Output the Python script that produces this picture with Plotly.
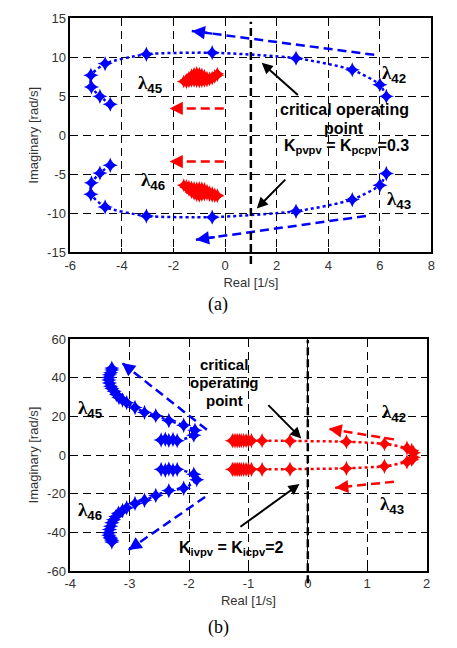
import plotly.graph_objects as go

# ---------------- (a) data ----------------
a_blue_x = [6.25, 6.0, 4.93, 2.75, -0.5, -3.05, -4.65, -5.2, -5.18, -4.85, -4.45]
a_blue_up_y = [5.0, 6.5, 8.4, 9.9, 10.6, 10.4, 9.2, 7.7, 6.2, 5.0, 4.0]
a_blue_dn_y = [-4.9, -6.4, -8.25, -9.75, -10.5, -10.35, -9.2, -7.55, -6.1, -4.85, -3.85]

a_red_x = [-0.3, -0.4, -0.5, -0.6, -0.7, -0.8, -0.9, -1.0, -1.1, -1.2, -1.3, -1.4, -1.5, -1.6,
           -1.5, -1.4, -1.3, -1.2, -1.1, -1.0, -0.9, -0.8, -0.7, -0.6, -0.5, -0.4, -0.3]
a_red_up_y = [7.9, 7.6, 7.4, 7.3, 7.4, 7.6, 7.8, 7.9, 8.0, 7.9, 7.7, 7.4, 7.1, 6.9,
              6.85, 6.9, 7.0, 7.0, 6.95, 6.9, 6.95, 7.0, 7.05, 7.15, 7.3, 7.5, 7.7]
a_red_dn_y = [-7.8, -7.6, -7.4, -7.3, -7.1, -6.9, -6.8, -6.75, -6.8, -6.75, -6.7, -6.6, -6.5, -6.4,
              -6.7, -7.0, -7.3, -7.5, -7.7, -7.75, -7.7, -7.6, -7.55, -7.65, -7.75, -7.8, -7.7]

# ---------------- (b) data ----------------
b_blue_up_x = [-2.47, -2.4, -2.34, -2.27, -2.2, -1.92, -1.9, -2.09, -2.34, -2.56, -2.75, -2.91,
               -3.05, -3.12, -3.18, -3.22, -3.26, -3.3, -3.32, -3.34, -3.35, -3.35, -3.34,
               -3.32, -3.3, -3.3]
b_blue_up_y = [7.8, 8.2, 7.6, 8.1, 7.4, 10.3, 12.8, 15.4, 17.9, 20.4, 22.1, 24.6,
               27.1, 28.5, 29.8, 31.3, 33.0, 34.5, 35.6, 37.3, 38.9, 40.2, 41.5,
               42.6, 44.0, 45.0]
b_blue_dn_x = [-2.47, -2.4, -2.34, -2.27, -2.2, -1.92, -1.87, -2.09, -2.34, -2.56, -2.75, -2.91,
               -3.05, -3.12, -3.19, -3.23, -3.27, -3.3, -3.32, -3.34, -3.35, -3.35, -3.33,
               -3.32, -3.3, -3.3]
b_blue_dn_y = [-7.4, -7.9, -7.2, -7.8, -7.4, -9.9, -12.8, -17.2, -18.4, -20.9, -23.4, -25.1,
               -27.3, -28.7, -30.1, -31.8, -33.5, -35.0, -36.9, -38.5, -40.2, -41.5, -42.5,
               -43.3, -44.1, -45.0]

b_red_x = [1.78, 1.75, 1.67, 1.29, 0.65, -0.3, -0.77, -0.95, -1.0, -1.04, -1.08, -1.12,
           -1.15, -1.18, -1.21, -1.24, -1.27]
b_red_up_y = [1.2, 2.4, 3.6, 5.8, 6.9, 7.3, 7.4, 7.4, 7.4, 7.4, 7.4, 7.4,
              7.4, 7.4, 7.4, 7.4, 7.4]
b_red_dn_y = [-1.2, -2.4, -3.6, -5.8, -6.9, -7.3, -7.4, -7.4, -7.4, -7.4, -7.4, -7.4,
              -7.4, -7.4, -7.4, -7.4, -7.4]

# tick labels
a_xticks = [-6, -4, -2, 0, 2, 4, 6, 8]
a_yticks = [-15, -10, -5, 0, 5, 10, 15]
b_xticks = [-4, -3, -2, -1, 0, 1, 2]
b_yticks = [-60, -40, -20, 0, 20, 40, 60]

# direction arrows: (tail_x, tail_y, head_x, head_y, color)
a_arrows = [(5.78, 10.33, -1.29, 13.4, "blue"), (5.46, -10.35, -1.13, -13.4, "blue"),
            (-0.05, 3.45, -2.15, 3.45, "red"), (-0.05, -3.37, -2.15, -3.37, "red")]
b_arrows = [(-1.7, 13.1, -3.13, 47.7, "blue"), (-1.73, -21.7, -3.02, -49.2, "blue"),
            (1.45, 8.1, 0.35, 13.6, "red"), (1.45, -13.8, 0.46, -17.0, "red")]
# black pointer arrows: (tail_x, tail_y, head_x, head_y)
a_pointers = [(2.88, 5.0, 1.42, 9.3), (2.39, -5.5, 1.23, -9.4)]
b_pointers = [(-0.69, 26.6, -0.11, 8.6), (-1.16, -37.7, -0.14, -15.0)]
a_crit_x = 1.0
b_crit_x = 0.0

BLUE = "#0000FF"
RED = "#FF0000"
FONT = "Liberation Sans"
SERIF = "Liberation Serif"

fig = go.Figure()


def traj(x, y, color, xa, ya, size=10):
    fig.add_trace(go.Scatter(
        x=x, y=y, mode="lines+markers", xaxis=xa, yaxis=ya,
        line=dict(color=color, width=2.5, dash="3px,3px", shape="spline", smoothing=0.6),
        marker=dict(symbol="star-diamond", size=size, color=color, line=dict(width=0)),
        showlegend=False, hoverinfo="skip"))


traj(a_blue_x, a_blue_up_y, BLUE, "x", "y", 11)
traj(a_blue_x, a_blue_dn_y, BLUE, "x", "y", 11)
traj(a_red_x, a_red_up_y, RED, "x", "y", 10)
traj(a_red_x, a_red_dn_y, RED, "x", "y", 10)
traj(b_blue_up_x, b_blue_up_y, BLUE, "x2", "y2", 11)
traj(b_blue_dn_x, b_blue_dn_y, BLUE, "x2", "y2", 11)
traj(b_red_x, b_red_up_y, RED, "x2", "y2", 11)
traj(b_red_x, b_red_dn_y, RED, "x2", "y2", 11)

annotations = []


def dir_arrow(tx, ty, hx, hy, color, xa, ya):
    fig.add_trace(go.Scatter(
        x=[tx, hx], y=[ty, hy], mode="lines", xaxis=xa, yaxis=ya,
        line=dict(color=color, width=2.5, dash="9px,5px"),
        showlegend=False, hoverinfo="skip"))
    f = 0.12
    annotations.append(dict(
        x=hx, y=hy, ax=hx + (tx - hx) * f, ay=hy + (ty - hy) * f,
        xref=xa, yref=ya, axref=xa, ayref=ya, text="", showarrow=True,
        arrowhead=2, arrowsize=1.2, arrowwidth=2.2, arrowcolor=color, standoff=0))


for tx, ty, hx, hy, c in a_arrows:
    dir_arrow(tx, ty, hx, hy, BLUE if c == "blue" else RED, "x", "y")
for tx, ty, hx, hy, c in b_arrows:
    dir_arrow(tx, ty, hx, hy, BLUE if c == "blue" else RED, "x2", "y2")

for tx, ty, hx, hy in a_pointers:
    annotations.append(dict(x=hx, y=hy, ax=tx, ay=ty, xref="x", yref="y", axref="x", ayref="y",
                            text="", showarrow=True, arrowhead=2, arrowsize=1.1, arrowwidth=2,
                            arrowcolor="black", standoff=0))
for tx, ty, hx, hy in b_pointers:
    annotations.append(dict(x=hx, y=hy, ax=tx, ay=ty, xref="x2", yref="y2", axref="x2", ayref="y2",
                            text="", showarrow=True, arrowhead=2, arrowsize=1.1, arrowwidth=2,
                            arrowcolor="black", standoff=0))


def lam(sub):
    return ('<b>λ<sub><span style="font-family:%s">%s</span></sub></b>' % (FONT, sub))


def txt(x, y, t, xa, ya, size=16, family=FONT):
    annotations.append(dict(x=x, y=y, xref=xa, yref=ya, text=t, showarrow=False,
                            font=dict(family=family, size=size, color="black"),
                            xanchor="center", yanchor="middle"))


txt(-2.9, 6.6, lam("45"), "x", "y", 19, SERIF)
txt(6.55, 7.9, lam("42"), "x", "y", 19, SERIF)
txt(-2.8, -5.9, lam("46"), "x", "y", 19, SERIF)
txt(6.75, -8.3, lam("43"), "x", "y", 19, SERIF)
txt(4.62, 3.3, "<b>critical operating</b>", "x", "y", 16)
txt(4.62, 0.9, "<b>point</b>", "x", "y", 16)
txt(4.72, -1.5, "<b>K<sub>pvpv</sub> = K<sub>pcpv</sub>=0.3</b>", "x", "y", 16)

txt(-3.66, 24.0, lam("45"), "x2", "y2", 19, SERIF)
txt(1.45, 21.5, lam("42"), "x2", "y2", 19, SERIF)
txt(-3.66, -29.0, lam("46"), "x2", "y2", 19, SERIF)
txt(1.42, -26.0, lam("43"), "x2", "y2", 19, SERIF)
txt(-1.41, 47.0, "<b>critical</b>", "x2", "y2", 15)
txt(-1.41, 37.6, "<b>operating</b>", "x2", "y2", 15)
txt(-1.41, 28.0, "<b>point</b>", "x2", "y2", 15)
txt(-1.29, -48.5, "<b>K<sub>ivpv</sub> = K<sub>icpv</sub>=2</b>", "x2", "y2", 16)

annotations.append(dict(x=0.475, y=1 - 305 / 648, xref="paper", yref="paper", text="(a)",
                        showarrow=False, font=dict(family=SERIF, size=18, color="black"),
                        xanchor="center", yanchor="middle"))
annotations.append(dict(x=0.475, y=1 - 635 / 648, xref="paper", yref="paper", text="(b)",
                        showarrow=False, font=dict(family=SERIF, size=18, color="black"),
                        xanchor="center", yanchor="middle"))

shapes = [
    dict(type="line", xref="x", yref="paper", x0=a_crit_x, x1=a_crit_x,
         y0=1 - 263 / 648, y1=1 - 15 / 648, line=dict(color="black", width=2.5, dash="8px,4px")),
    dict(type="line", xref="x2", yref="paper", x0=b_crit_x, x1=b_crit_x,
         y0=1 - 590 / 648, y1=1 - 341 / 648, line=dict(color="black", width=2.5, dash="8px,4px")),
]


def axis(dom, rng, ticks, anchor, title):
    return dict(domain=dom, range=rng, tickvals=ticks, ticktext=[str(t) for t in ticks],
                showgrid=True, gridcolor="black", gridwidth=1, griddash="8px,5px",
                zeroline=False, showline=True, linecolor="black", linewidth=1.5, mirror=True,
                ticks="inside", ticklen=4, tickcolor="black", anchor=anchor,
                tickfont=dict(family=FONT, size=13, color="#333333"),
                title=dict(text=title, font=dict(family=FONT, size=13, color="#333333"), standoff=6))


fig.update_layout(
    width=457, height=648, margin=dict(l=0, r=0, t=0, b=0),
    paper_bgcolor="white", plot_bgcolor="white",
    xaxis=axis([65.7 / 457, 435 / 457], [-6, 8], a_xticks, "y", "Real [1/s]"),
    yaxis=axis([1 - 251 / 648, 1 - 11.7 / 648], [-15, 15], a_yticks, "x", "Imaginary [rad/s]"),
    xaxis2=axis([65.7 / 457, 430 / 457], [-4, 2], b_xticks, "y2", "Real [1/s]"),
    yaxis2=axis([1 - 577.3 / 648, 1 - 340 / 648], [-60, 60], b_yticks, "x2", "Imaginary [rad/s]"),
    annotations=annotations, shapes=shapes,
)

fig.write_html("out.html")
